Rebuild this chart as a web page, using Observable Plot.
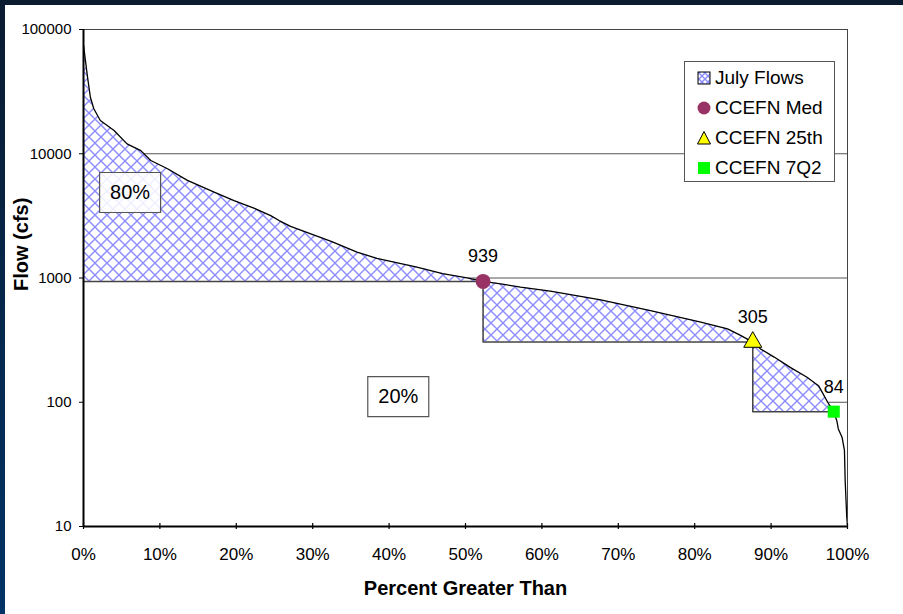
<!DOCTYPE html>
<html>
<head>
<meta charset="utf-8">
<script src="https://cdn.jsdelivr.net/npm/d3@7"></script>
<script src="https://cdn.jsdelivr.net/npm/@observablehq/plot@0.6"></script>
<style>
  body { margin: 0; font-family: "Liberation Sans", Arial, sans-serif; }
  #frame { position: relative; width: 903px; height: 614px; background: linear-gradient(to bottom, #0b1b30, #003366); }
  #panel { position: absolute; left: 5px; top: 5px; width: 898px; height: 609px; background: #fff; }
  #legend { position: absolute; left: 679px; top: 56px; width: 149px; height: 118px; border: 1px solid #555; background: #fff; padding-top: 1px; }
  #legend .row { height: 30px; display: flex; align-items: center; font-size: 19px; color: #000; }
  #legend svg { width: 16px; height: 16px; margin-left: 11px; margin-right: 3px; }
</style>
</head>
<body>
<div id="frame"><div id="panel"><div id="chart"></div><div id="legend"></div></div></div>
<script>
// flow duration curve for July (percent exceeded, cfs)
let pcts  = [0, 0.5, 0.9, 1.35, 2.2, 4.0, 5.7, 7.5, 8.8, 11.0, 13.6, 17.1, 19.7, 22.3, 24.5, 25.6, 27.1, 32.5, 35.8, 38.4, 43.5, 47.0, 50.2,
             52.3, 54.6, 57.2, 61.1, 67.7, 74.2, 80.8, 84.3, 86.0, 87.6, 88.6, 90.4, 92.5, 94.7, 96.2, 96.7, 97.4,
             98.2, 98.6, 98.8, 99.3, 99.6, 99.7, 99.9, 100];
let flows = [75000, 42600, 28500, 23000, 18500, 15400, 12000, 10600, 8830, 7570, 6100, 4910, 4200, 3650, 3180, 2900, 2600, 1960, 1615, 1440, 1230, 1085, 1002,
             939, 898, 843, 784, 667, 547, 441, 390, 345, 305, 269, 231, 191, 159, 136, 120, 100,
             84, 71, 61, 52, 41, 23, 12, 10];

// CCEFN thresholds
let markerNames = ["CCEFN Med", "CCEFN 25th", "CCEFN 7Q2"];
let markerPcts  = [52.3, 87.6, 98.2];
let markerFlows = [939, 305, 84];

let shareText  = ["80%", "20%"];
let sharePcts  = [6.1, 41.2];
let shareFlows = [4875, 111];

let xTicks = [0, 10, 20, 30, 40, 50, 60, 70, 80, 90, 100];
let yTicks = [10, 100, 1000, 10000, 100000];
let gridFlows = [100, 1000, 10000];

const curve = pcts.map((p, i) => ({ pct: p, flow: flows[i] }));
const markers = markerNames.map((n, i) => ({ name: n, pct: markerPcts[i], flow: markerFlows[i] }));
const shares = shareText.map((t, i) => ({ text: t, pct: sharePcts[i], flow: shareFlows[i] }));

// hatched pieces: each one between curve and threshold, from one marker to the next
const pieces = markers.map((m, i) => {
  const x0 = i == 0 ? 0 : markers[i - 1].pct;
  return curve.filter(d => d.pct >= x0 && d.pct <= m.pct).map(d => ({ ...d, base: m.flow, piece: i }));
}).flat();

// outline of the hatched steps
const steps = [{ pct: 0, flow: markers[0].flow }];
markers.forEach((m, i) => {
  steps.push({ pct: m.pct, flow: m.flow });
  if (i + 1 < markers.length) steps.push({ pct: m.pct, flow: markers[i + 1].flow });
});

const boxSymbol = { draw(ctx) { ctx.rect(-30.5, -20, 61, 40); } };

let chart = Plot.plot({
  width: 898,
  height: 609,
  marginLeft: 78,
  marginTop: 24,
  marginRight: 56,
  marginBottom: 88,
  style: { fontFamily: "Liberation Sans, Arial, sans-serif", color: "#000", background: "#fff" },
  x: { domain: [0, 100] },
  y: { type: "log", domain: [10, 100000] },
  marks: [
    Plot.ruleY(gridFlows, { stroke: "#555", strokeWidth: 1 }),
    Plot.areaY(curve, { x: "pct", y1: 10, y2: "flow", fill: "#fff" }),
    Plot.areaY(pieces, { x: "pct", y1: "base", y2: "flow", z: "piece", fill: "url(#hatch)" }),
    Plot.line(steps, { x: "pct", y: "flow", stroke: "#444", strokeWidth: 1.5 }),
    Plot.line(curve, { x: "pct", y: "flow", stroke: "#000", strokeWidth: 1.3 }),
    Plot.frame({ stroke: "#444", strokeWidth: 1 }),
    Plot.ruleX([0], { stroke: "#000", strokeWidth: 2 }),
    Plot.ruleY([10], { stroke: "#000", strokeWidth: 2 }),
    Plot.ruleX(xTicks, { x: d => d, y1: 10, y2: 10, insetTop: -3, insetBottom: -3, stroke: "#000", strokeWidth: 1.2 }),
    Plot.axisX({ ticks: xTicks, tickFormat: d => d + "%", tickSize: 0, tickPadding: 21, fontSize: 17, label: null }),
    Plot.axisY({ ticks: yTicks, tickFormat: d3.format("d"), tickSize: 4, tickPadding: 8, fontSize: 15, label: null }),
    Plot.dot(markers.slice(0, 1), { x: "pct", y: "flow", r: 7.5, fill: "#993366" }),
    Plot.dot(markers.slice(1, 2), { x: "pct", y: "flow", r: 6.7, symbol: "triangle", fill: "#ffff00", stroke: "#000", strokeWidth: 1 }),
    Plot.dot(markers.slice(2, 3), { x: "pct", y: "flow", r: 6.8, symbol: "square", fill: "#00ff00" }),
    Plot.text(markers, { x: "pct", y: "flow", text: d => d.flow, dy: -19, lineAnchor: "bottom", fontSize: 18 }),
    Plot.dot(shares, { x: "pct", y: "flow", symbol: boxSymbol, fill: "#fff", fillOpacity: 0.85, stroke: "#555", strokeWidth: 1.2 }),
    Plot.text(shares, { x: "pct", y: "flow", text: "text", fontSize: 20, lineAnchor: "middle" }),
    Plot.text(["Percent Greater Than"], { frameAnchor: "bottom", dy: 68, lineAnchor: "bottom", fontSize: 20, fontWeight: "bold" }),
    Plot.text(["Flow (cfs)"], { frameAnchor: "left", dx: -56, dy: 13, rotate: -90, lineAnchor: "bottom", fontSize: 20, fontWeight: "bold" }),
  ],
});

const hatchDef = (id, s) => `<pattern id="${id}" width="${s}" height="${s}" patternUnits="userSpaceOnUse">
  <rect width="${s}" height="${s}" fill="#fff"/>
  <path d="M0,0L${s},${s}M${s},0L0,${s}" stroke="#8c8cff" stroke-width="1.4"/></pattern>`;

d3.select(chart).insert("defs", ":first-child").html(hatchDef("hatch", 12));
d3.select("#chart").append(() => chart);

// legend
const symbols = [
  `<defs>${hatchDef("hatch2", 6)}</defs><rect x="2" y="2" width="12" height="12" fill="url(#hatch2)" stroke="#000"/>`,
  `<circle cx="8" cy="8" r="6.5" fill="#993366"/>`,
  `<path d="M8,1.5L14.5,14L1.5,14Z" fill="#ffff00" stroke="#000"/>`,
  `<rect x="2" y="2" width="12" height="12" fill="#00ff00"/>`,
];
const legendNames = ["July Flows", ...markerNames];
legendNames.forEach((n, i) => {
  d3.select("#legend").append("div").attr("class", "row")
    .html(`<svg viewBox="0 0 16 16">${symbols[i]}</svg><span>${n}</span>`);
});
</script>
</body>
</html>
